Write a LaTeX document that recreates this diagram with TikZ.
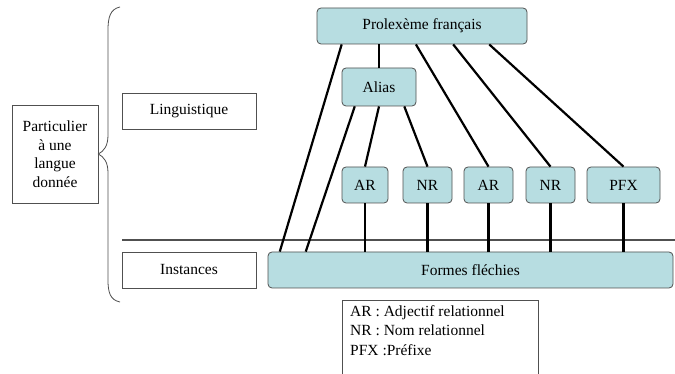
\documentclass[tikz,border=0pt]{standalone}
\usepackage{fontspec}
\setmainfont{Liberation Serif}
\usetikzlibrary{positioning,calc}
\definecolor{boxfill}{RGB}{183,221,225}
\definecolor{boxline}{RGB}{80,80,80}
\tikzset{
    unit/.style={draw=boxline, fill=boxfill, rounded corners=4pt, line width=0.8pt, inner sep=0pt, font=\fontsize{15.5}{18.5}\selectfont},
    plain/.style={draw=boxline, line width=0.8pt, inner sep=0pt, font=\fontsize{15.5}{18.5}\selectfont},
    link/.style={line width=2.2pt, black},
}
\begin{document}
\begin{tikzpicture}[x=1pt, y=-1pt]
    \useasboundingbox[fill=white] (0,0) rectangle (675,374);
    % levels on the left
    \node[plain, minimum width=86pt, minimum height=98pt, align=center] (part) at (55,154) {Particulier\\ à une\\ langue\\ donnée};
    \node[plain, minimum width=134pt, minimum height=36pt] (ling) at (189,111) {Linguistique};
    \node[plain, minimum width=134pt, minimum height=36pt] (inst) at (189,270) {Instances};
    \draw[boxline, line width=0.8pt] (120,7) .. controls (110,9) and (108,18) .. (108,30)
        -- (108,135) .. controls (108,146) and (104,151) .. (part.east |- 0,154)
        .. controls (104,157) and (108,162) .. (108,173)
        -- (108,280) .. controls (108,292) and (110,300) .. (120,302);
    % separation between the two levels
    \coordinate (sepA) at (122,240);
    \coordinate (sepB) at (675,240);
    \draw[boxline, line width=1.2pt] (sepA) -- (sepB);
    % units
    \node[unit, minimum width=210pt, minimum height=36pt] (prolex) at (422,26) {Prolexème français};
    \node[unit, minimum width=74pt, minimum height=38pt] (alias) at (379,87) {Alias};
    \foreach \name/\txt/\px/\bw in {ar1/AR/365/46, nr1/NR/427.5/49, ar2/AR/488.5/49, nr2/NR/550.5/49, pfx/PFX/623.5/73} {
        \node[unit, minimum width=\bw pt, minimum height=36pt] (\name) at (\px,185) {\txt};
    }
    \node[unit, minimum width=405pt, minimum height=36pt] (formes) at (470.5,270) {Formes fléchies};
    % links
    \draw[link] ($(prolex.south west)!0.119!(prolex.south east)$) -- ($(formes.north west)!0.03!(formes.north east)$);
    \draw[link] ($(alias.south west)!0.176!(alias.south east)$) -- ($(formes.north west)!0.094!(formes.north east)$);
    \draw[link] (alias.north) -- (alias.north |- prolex.south);
    \draw[link] (alias.south) -- (ar1.north);
    \draw[link] ($(alias.south west)!0.838!(alias.south east)$) -- (nr1.north);
    \draw[link] ($(prolex.south west)!0.471!(prolex.south east)$) -- (ar2.north);
    \draw[link] ($(prolex.south west)!0.648!(prolex.south east)$) -- (nr2.north);
    \draw[link] ($(prolex.south west)!0.819!(prolex.south east)$) -- (pfx.north);
    \foreach \name in {ar1,nr1,ar2,nr2,pfx} {
        \draw[link] (\name.south) -- (\name.south |- formes.north);
    }
    % legend
    \node[plain, anchor=north west, minimum width=196pt, minimum height=80pt, inner sep=0pt] (legend) at (342,300) {};
    \node[anchor=north west, align=left, font=\fontsize{15.5}{19.5}\selectfont, inner sep=0pt] (legtext) at ($(legend.north west)+(8,5)$) {AR : Adjectif relationnel\\ NR : Nom relationnel\\ PFX :Préfixe};
\end{tikzpicture}
\end{document}
